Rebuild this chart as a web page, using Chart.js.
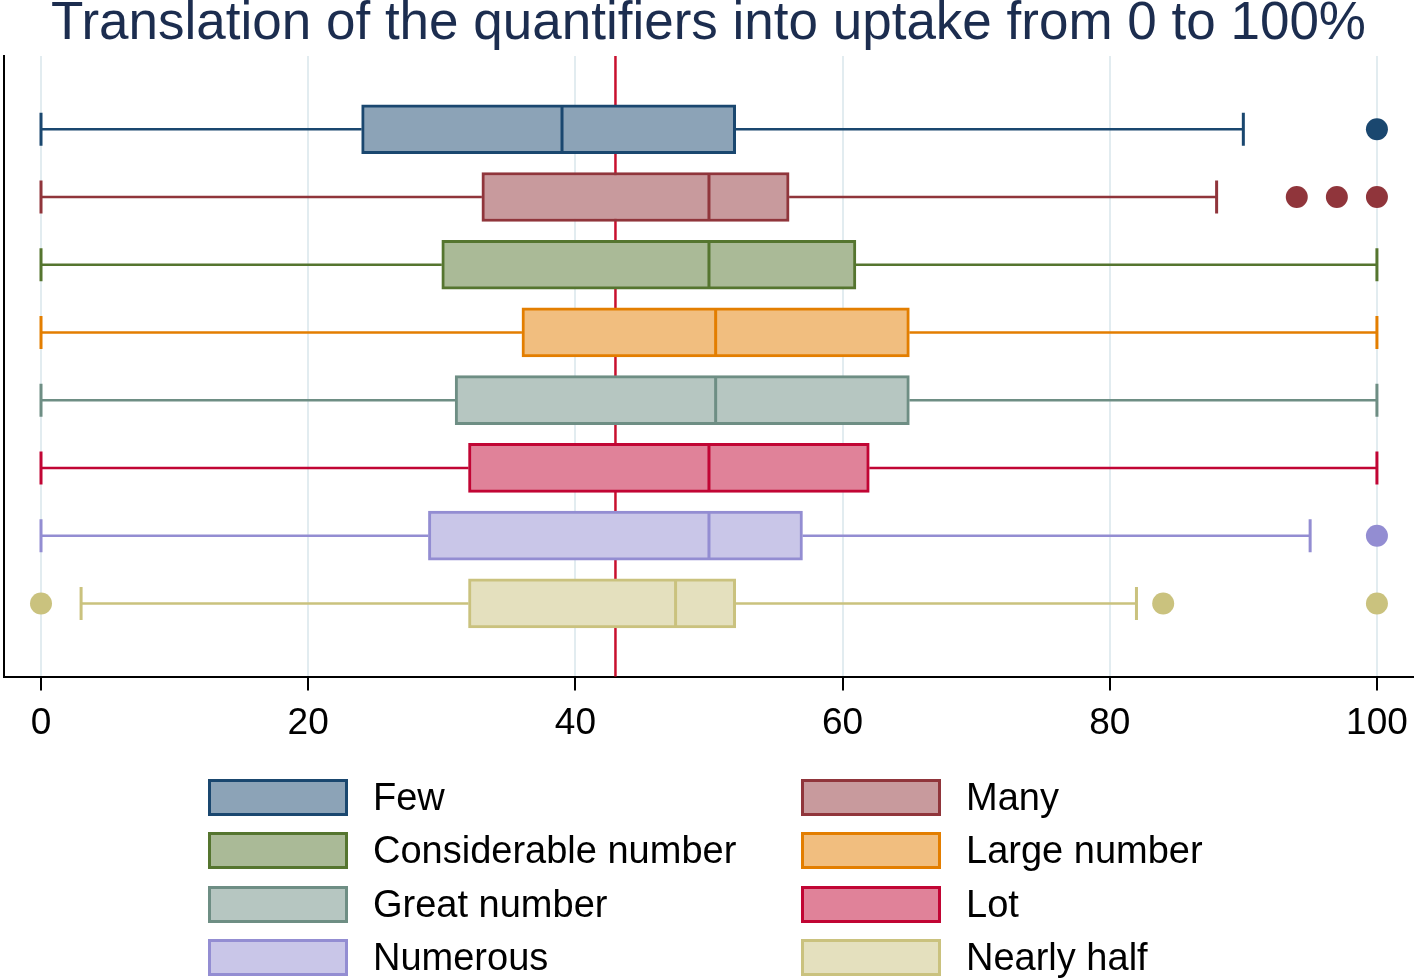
<!DOCTYPE html>
<html>
<head>
<meta charset="utf-8">
<script src="https://cdn.jsdelivr.net/npm/chart.js@4.4.1/dist/chart.umd.min.js"></script>
<style>
  html, body { margin: 0; padding: 0; background: #fff; }
  #wrap { position: relative; width: 1418px; height: 980px; overflow: hidden; }
  #c { position: absolute; left: 0; top: 0; }
  .leg { position: absolute; font-family: 'Liberation Sans', Arial, sans-serif; font-size: 38px; color: #000; }
  .leg .box { position: absolute; width: 140px; height: 37px; box-sizing: border-box; border: 3px solid; }
  .leg .txt { position: absolute; white-space: nowrap; line-height: 37px; }
</style>
</head>
<body>
<div id="wrap">
  <canvas id="c" width="1418" height="980"></canvas>
</div>
<script>
// ---- data ----
const categories = ['Few', 'Many', 'Considerable number', 'Large number', 'Great number', 'Lot', 'Numerous', 'Nearly half'];
const whiskerLow  = [0, 0, 0, 0, 0, 0, 0, 3];
const q1Values    = [24, 33, 30, 36, 31, 32, 29, 32];
const medians     = [39, 50, 50, 50.5, 50.5, 50, 50, 47.5];
const q3Values    = [52, 56, 61, 65, 65, 62, 57, 52];
const whiskerHigh = [90, 88, 100, 100, 100, 100, 95, 82];
const outliers    = [[100], [94, 97, 100], [], [], [], [], [100], [0, 84, 100]];
const referenceValue = 43;
const xTickValues = [0, 20, 40, 60, 80, 100];
const titleText = 'Translation of the quantifiers into uptake from 0 to 100%';

// ---- styles ----
const lineColors = ['rgb(26,71,111)', 'rgb(144,53,59)', 'rgb(85,117,47)', 'rgb(227,126,0)', 'rgb(110,142,132)', 'rgb(193,5,52)', 'rgb(147,141,210)', 'rgb(202,194,126)'];
const fillColors = ['rgb(140,163,183)', 'rgb(200,154,157)', 'rgb(170,186,151)', 'rgb(241,190,127)', 'rgb(182,198,193)', 'rgb(224,130,153)', 'rgb(201,198,232)', 'rgb(228,224,190)'];
const refColor = 'rgb(200,16,46)';
const FONT = "'Liberation Sans', Arial, sans-serif";

const boxData = categories.map((c, i) => ({ y: i, x: [q1Values[i], q3Values[i]] }));
const outlierData = [];
const outlierColors = [];
outliers.forEach((arr, i) => arr.forEach(v => { outlierData.push({ x: v, y: i }); outlierColors.push(lineColors[i]); }));

const BOX_H = 49;
const CAP_HALF = 16.5;

const boxPlugin = {
  id: 'boxParts',
  beforeDatasetsDraw(chart) {
    const ctx = chart.ctx, xs = chart.scales.x, ys = chart.scales.y, a = chart.chartArea;
    ctx.save();
    const rx = xs.getPixelForValue(referenceValue);
    ctx.strokeStyle = refColor; ctx.lineWidth = 2.5;
    ctx.beginPath(); ctx.moveTo(rx, a.top); ctx.lineTo(rx, a.bottom); ctx.stroke();
    categories.forEach((c, i) => {
      const y = ys.getPixelForValue(i);
      const lo = xs.getPixelForValue(whiskerLow[i]), hi = xs.getPixelForValue(whiskerHigh[i]);
      const b1 = xs.getPixelForValue(q1Values[i]), b3 = xs.getPixelForValue(q3Values[i]);
      ctx.strokeStyle = lineColors[i]; ctx.lineWidth = 2.5;
      ctx.beginPath();
      ctx.moveTo(lo, y); ctx.lineTo(b1, y);
      ctx.moveTo(b3, y); ctx.lineTo(hi, y);
      ctx.stroke();
      ctx.lineWidth = 3;
      ctx.beginPath();
      ctx.moveTo(lo, y - CAP_HALF); ctx.lineTo(lo, y + CAP_HALF);
      ctx.moveTo(hi, y - CAP_HALF); ctx.lineTo(hi, y + CAP_HALF);
      ctx.stroke();
    });
    ctx.restore();
  },
  afterDatasetsDraw(chart) {
    const ctx = chart.ctx, xs = chart.scales.x, ys = chart.scales.y;
    ctx.save();
    categories.forEach((c, i) => {
      const y = ys.getPixelForValue(i);
      const m = xs.getPixelForValue(medians[i]);
      ctx.strokeStyle = lineColors[i]; ctx.lineWidth = 3;
      ctx.beginPath(); ctx.moveTo(m, y - BOX_H / 2 + 1); ctx.lineTo(m, y + BOX_H / 2 - 1); ctx.stroke();
    });
    ctx.restore();
  }
};

new Chart(document.getElementById('c'), {
  data: {
    datasets: [
      {
        type: 'bar',
        data: boxData,
        backgroundColor: fillColors,
        borderColor: lineColors,
        borderWidth: 3,
        borderSkipped: false,
        barThickness: BOX_H,
        grouped: false,
        order: 2
      },
      {
        type: 'scatter',
        data: outlierData,
        pointBackgroundColor: outlierColors,
        pointBorderWidth: 0,
        pointRadius: 11,
        order: 1
      }
    ]
  },
  options: {
    indexAxis: 'y',
    responsive: false,
    animation: false,
    layout: { autoPadding: false, padding: { left: 4, right: 5, top: 0, bottom: 223 } },
    plugins: {
      legend: { display: false },
      tooltip: { enabled: false },
      title: {
        display: true,
        text: titleText,
        color: 'rgb(28,45,79)',
        font: { family: FONT, size: 53, weight: 'normal', lineHeight: 0.85 },
        padding: { top: 2, bottom: 9 }
      }
    },
    scales: {
      x: {
        type: 'linear',
        min: -2.77,
        max: 102.7,
        offset: false,
        afterBuildTicks(scale) { scale.ticks = xTickValues.map(v => ({ value: v })); },
        afterFit(scale) { scale.paddingLeft = 0; scale.paddingRight = 0; },
        grid: { color: 'rgb(226,236,240)', lineWidth: 2, tickColor: '#000', tickWidth: 2, tickLength: 14 },
        border: { display: true, color: '#000', width: 2 },
        ticks: { color: '#000', font: { family: FONT, size: 37 }, padding: 11, maxRotation: 0 }
      },
      y: {
        type: 'linear',
        reverse: true,
        min: -1.08,
        max: 8.08,
        offset: false,
        afterFit(scale) { scale.width = 0; scale.paddingLeft = 0; scale.paddingRight = 0; },
        grid: { display: false, drawTicks: false, offset: false },
        border: { display: true, color: '#000', width: 2 },
        ticks: { display: false }
      }
    }
  },
  plugins: [boxPlugin]
});

const wrap = document.getElementById('wrap');
categories.forEach((c, i) => {
  const col = i % 2, row = Math.floor(i / 2);
  const left = col === 0 ? 208 : 801;
  const top = 779 + row * 53.4;
  const d = document.createElement('div');
  d.className = 'leg';
  d.style.left = left + 'px'; d.style.top = top + 'px';
  d.innerHTML = '<div class="box" style="left:0;top:0;background:' + fillColors[i] + ';border-color:' + lineColors[i] + '"></div>' +
                '<div class="txt" style="left:165px;top:0">' + c + '</div>';
  wrap.appendChild(d);
});
</script>
</body>
</html>
